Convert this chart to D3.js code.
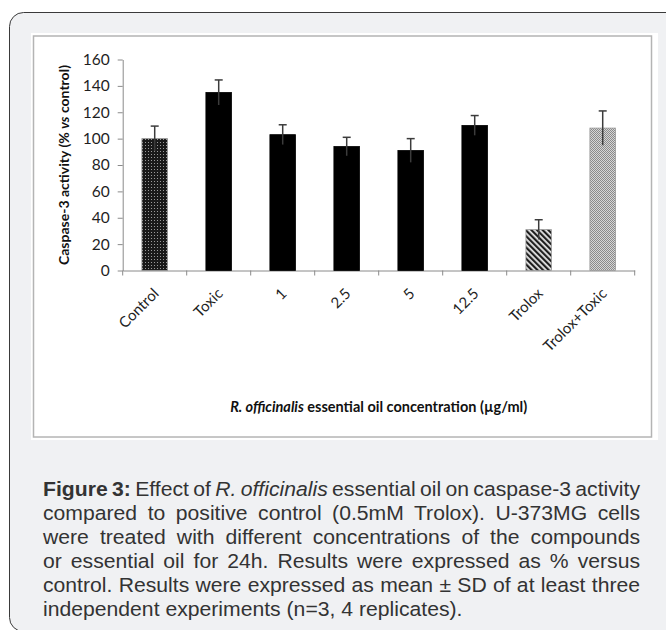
<!DOCTYPE html>
<html>
<head>
<meta charset="utf-8">
<script src="https://cdn.jsdelivr.net/npm/d3@7"></script>
<style>
  html, body { margin: 0; padding: 0; background: #ffffff; }
  svg { display: block; }
</style>
</head>
<body>
<svg id="fig" width="666" height="630"></svg>
<script>
// Caspase-3 activity per treatment (% vs control), mean and SD
const categories = ["Control", "Toxic", "1", "2.5", "5", "12.5", "Trolox", "Trolox+Toxic"];
const means = [100, 135, 103, 94, 91, 110, 31, 108];
const sds = [9.5, 9.5, 7.5, 7, 9, 7.5, 7.5, 13];
const yTicks = [0, 20, 40, 60, 80, 100, 120, 140, 160];

const captionLines = [
  [["b", "Figure 3:"], ["n", " Effect of "], ["i", "R. officinalis"], ["n", " essential oil on caspase-3 activity"]],
  [["n", "compared to positive control (0.5mM Trolox). U-373MG cells"]],
  [["n", "were treated with different concentrations of the compounds"]],
  [["n", "or essential oil for 24h. Results were expressed as % versus"]],
  [["n", "control. Results were expressed as mean ± SD of at least three"]],
  [["n", "independent experiments (n=3, 4 replicates)."]]
];

const svg = d3.select("#fig");
const defs = svg.append("defs");

// Fill patterns for the control and Trolox bars
const pDots = defs.append("pattern").attr("id", "dots").attr("patternUnits", "userSpaceOnUse")
  .attr("width", 3).attr("height", 3);
pDots.append("rect").attr("width", 3).attr("height", 3).attr("fill", "#1a1a1a");
pDots.append("rect").attr("x", 1).attr("y", 1).attr("width", 1).attr("height", 1).attr("fill", "#9a9a9a");

const pStripes = defs.append("pattern").attr("id", "stripes").attr("patternUnits", "userSpaceOnUse")
  .attr("width", 4).attr("height", 4).attr("patternTransform", "rotate(-45)");
pStripes.append("rect").attr("width", 4).attr("height", 4).attr("fill", "#e8e8e8");
pStripes.append("rect").attr("width", 2.2).attr("height", 4).attr("fill", "#1e1e1e");

const pCheck = defs.append("pattern").attr("id", "check").attr("patternUnits", "userSpaceOnUse")
  .attr("width", 2).attr("height", 2);
pCheck.append("rect").attr("width", 2).attr("height", 2).attr("fill", "#d6d6d6");
pCheck.append("rect").attr("width", 1).attr("height", 1).attr("fill", "#8a8a8a");
pCheck.append("rect").attr("x", 1).attr("y", 1).attr("width", 1).attr("height", 1).attr("fill", "#8a8a8a");

const fillFor = {
  "Control": "url(#dots)",
  "Trolox": "url(#stripes)",
  "Trolox+Toxic": "url(#check)"
};

// Figure frame and chart panel
svg.append("rect").attr("x", 9.5).attr("y", 12.5).attr("width", 690).attr("height", 619)
  .attr("rx", 14).attr("fill", "#f0f1f3").attr("stroke", "#3a3a3a").attr("stroke-width", 1);
svg.append("rect").attr("x", 31).attr("y", 33).attr("width", 627).attr("height", 407).attr("fill", "#ffffff");
svg.append("rect").attr("x", 33.5).attr("y", 36).attr("width", 618).attr("height", 401)
  .attr("fill", "#ffffff").attr("stroke", "#b4b4b4").attr("stroke-width", 1.5);

const plot = { left: 122.7, right: 634.7, top: 59.5, bottom: 270.5 };

const x = d3.scaleBand().domain(categories).range([plot.left, plot.right])
  .paddingInner(0.6).paddingOuter(0.3);
const y = d3.scaleLinear().domain([0, 160]).range([plot.bottom, plot.top]);

const tickFont = "Lato, 'Open Sans', sans-serif";

// Y axis
const yAxis = svg.append("g").attr("transform", `translate(${plot.left},0)`)
  .call(d3.axisLeft(y).tickValues(yTicks).tickSize(5).tickSizeOuter(0).tickPadding(8));
yAxis.select(".domain").attr("stroke", "#8a8a8a");
yAxis.selectAll(".tick line").attr("stroke", "#8a8a8a");
yAxis.selectAll(".tick text").attr("font-family", tickFont).attr("font-size", 15.5).attr("fill", "#1f1f1f");

// X axis with ticks on category boundaries
const xAxis = svg.append("g").attr("transform", `translate(0,${plot.bottom})`)
  .call(d3.axisBottom(x).tickSize(0).tickFormat(""));
xAxis.select(".domain").attr("stroke", "#8a8a8a");
const boundaries = d3.range(categories.length + 1).map(i => x.range()[0] + i * x.step());
xAxis.selectAll(".bound").data(boundaries).join("line").attr("class", "bound")
  .attr("x1", d => d).attr("x2", d => d).attr("y1", 0).attr("y2", 5).attr("stroke", "#8a8a8a");

// Rotated category labels
svg.append("g").selectAll("text").data(categories).join("text")
  .attr("transform", d => `translate(${x(d) + x.bandwidth() / 2 + 5},${plot.bottom + 24}) rotate(-45)`)
  .attr("text-anchor", "end")
  .attr("font-family", tickFont).attr("font-size", 15).attr("fill", "#1f1f1f")
  .text(d => d);

// Bars
svg.append("g").selectAll("rect").data(categories).join("rect")
  .attr("x", d => x(d))
  .attr("y", (d, i) => y(means[i]))
  .attr("width", x.bandwidth())
  .attr("height", (d, i) => y(0) - y(means[i]))
  .attr("fill", d => fillFor[d] || "#000000")
  .attr("stroke", d => fillFor[d] ? "#9a9a9a" : "#000000")
  .attr("stroke-width", 0.8);

// Error bars (line through the mean, cap on the upper end)
const err = svg.append("g").attr("stroke", "#3c3c3c").attr("stroke-width", 1.5);
categories.forEach((c, i) => {
  const cx = x(c) + x.bandwidth() / 2;
  err.append("line").attr("x1", cx).attr("x2", cx)
    .attr("y1", y(means[i] - sds[i])).attr("y2", y(means[i] + sds[i]));
  err.append("line").attr("x1", cx - 4).attr("x2", cx + 4)
    .attr("y1", y(means[i] + sds[i])).attr("y2", y(means[i] + sds[i]));
});

// Axis titles
const yTitle = svg.append("text")
  .attr("transform", `translate(69,${(plot.top + plot.bottom) / 2}) rotate(-90)`)
  .attr("text-anchor", "middle").attr("font-family", tickFont).attr("font-weight", "bold")
  .attr("font-size", 14).attr("fill", "#111");
yTitle.append("tspan").text("Caspase-3 activity (% ");
yTitle.append("tspan").attr("font-style", "italic").text("vs");
yTitle.append("tspan").text(" control)");

const xTitle = svg.append("text")
  .attr("x", (plot.left + plot.right) / 2).attr("y", 412)
  .attr("text-anchor", "middle").attr("font-family", tickFont).attr("font-weight", "bold")
  .attr("font-size", 14.5).attr("fill", "#111");
xTitle.append("tspan").attr("font-style", "italic").text("R. officinalis");
xTitle.append("tspan").text(" essential oil concentration  (µg/ml)");

// Caption, justified line by line
const capLeft = 43, capRight = 640, capTop = 496, capStep = 24, lastLineShare = 0.703;
const capFull = capRight - capLeft;
const cap = svg.append("g").attr("font-family", "'Liberation Sans', Arial, sans-serif")
  .attr("font-size", 19.5).attr("fill", "#333");
const capTexts = captionLines.map((parts, li) => {
  const t = cap.append("text").attr("y", capTop + li * capStep);
  parts.forEach(([kind, str]) => {
    const s = t.append("tspan").text(str);
    if (kind === "b") s.attr("font-weight", "bold");
    if (kind === "i") s.attr("font-style", "italic");
  });
  return t;
});
// horizontal scale taken from the unjustified last line
const lastW = capTexts[capTexts.length - 1].node().getComputedTextLength();
const sx = (capFull * lastLineShare) / lastW;
capTexts.forEach((t, li) => {
  t.attr("transform", `translate(${capLeft},0) scale(${sx},1)`).attr("x", 0);
  if (li < capTexts.length - 1) {
    const full = captionLines[li].map(p => p[1]).join("");
    const spaces = (full.match(/ /g) || []).length;
    const w = t.node().getComputedTextLength();
    if (spaces > 0) t.attr("word-spacing", (capFull / sx - w) / spaces);
  }
});
</script>
</body>
</html>
